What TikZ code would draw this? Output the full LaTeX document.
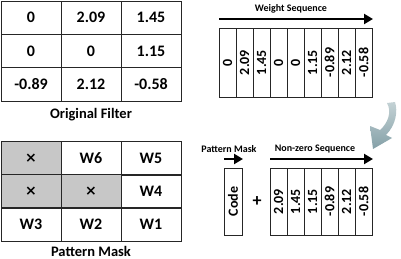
\documentclass[tikz,border=0pt]{standalone}
\usepackage{fontspec}
\setmainfont{Carlito}
\newfontfamily\symfont{DejaVu Sans}
\usetikzlibrary{arrows.meta}

\begin{document}
\begin{tikzpicture}[
  x=1pt,y=-1pt,
  cell/.style={draw=black!85,line width=.8pt,minimum width=60pt,minimum height=33.3pt,
    inner sep=0pt,font=\fontsize{16}{18}\selectfont\bfseries},
  masked/.style={cell,fill=black!22,font=\fontsize{14}{16}\symfont\bfseries},
  seqcell/.style={draw=black!85,line width=.8pt,minimum width=17pt,minimum height=69pt,
    inner sep=0pt,font=\fontsize{14}{16}\selectfont\bfseries},
  nzcell/.style={seqcell,minimum height=67pt},
  caption/.style={anchor=base,font=\fontsize{14.5}{16}\selectfont\bfseries},
  tag/.style={font=\fontsize{10}{12}\selectfont\bfseries},
  flow/.style={-{Triangle[length=9pt,width=10pt]},line width=2.2pt}
]
  \useasboundingbox (0,0) rectangle (401,259);

  % original filter
  \node[cell] (f11) at (31,17.7) {0};
  \node[cell] (f12) at (91,17.7) {2.09};
  \node[cell] (f13) at (151,17.7) {1.45};
  \node[cell] (f21) at (31,51) {0};
  \node[cell] (f22) at (91,51) {0};
  \node[cell] (f23) at (151,51) {1.15};
  \node[cell] (f31) at (31,84.3) {-0.89};
  \node[cell] (f32) at (91,84.3) {2.12};
  \node[cell] (f33) at (151,84.3) {-0.58};
  \node[caption] (filtercap) at (91,118) {Original Filter};

  % pattern mask
  \node[masked] (m11) at (31,158.5) {×};
  \node[cell] (m12) at (91,158.5) {W6};
  \node[cell] (m13) at (151,158.5) {W5};
  \node[masked] (m21) at (31,191.5) {×};
  \node[masked] (m22) at (91,191.5) {×};
  \node[cell] (m23) at (151,191.5) {W4};
  \node[cell] (m31) at (31,224.5) {W3};
  \node[cell] (m32) at (91,224.5) {W2};
  \node[cell] (m33) at (151,224.5) {W1};
  \node[caption] (maskcap) at (91,256) {Pattern Mask};

  % weight sequence
  \node[seqcell] (w1) at (227.5,62.5) {\rotatebox{90}{0}};
  \node[seqcell] (w2) at (244.5,62.5) {\rotatebox{90}{2.09}};
  \node[seqcell] (w3) at (261.5,62.5) {\rotatebox{90}{1.45}};
  \node[seqcell] (w4) at (278.5,62.5) {\rotatebox{90}{0}};
  \node[seqcell] (w5) at (295.5,62.5) {\rotatebox{90}{0}};
  \node[seqcell] (w6) at (312.5,62.5) {\rotatebox{90}{1.15}};
  \node[seqcell] (w7) at (329.5,62.5) {\rotatebox{90}{-0.89}};
  \node[seqcell] (w8) at (346.5,62.5) {\rotatebox{90}{2.12}};
  \node[seqcell] (w9) at (363.5,62.5) {\rotatebox{90}{-0.58}};
  \coordinate (wstart) at (219,19);
  \coordinate (wend) at (373,19);
  \draw[flow] (wstart) -- (wend);
  \node[tag] (wtag) at (291,9) {Weight Sequence};

  % curved arrow
  \path[top color={rgb,255:red,196;green,210;blue,213},bottom color={rgb,255:red,132;green,160;blue,167}]
    (387,103) .. controls (392,112) and (388,123) .. (380,130) -- (370,126) -- (373,149)
    -- (392,138) -- (386,135) .. controls (396,125) and (398,111) .. (395,102) -- cycle;

  % code + non-zero sequence
  \node[nzcell,minimum width=18pt] (code) at (233,201.5) {\rotatebox{90}{Code}};
  \node[font=\fontsize{18}{20}\selectfont\bfseries] (plus) at (257,201.5) {+};
  \node[nzcell] (n1) at (278.5,201.5) {\rotatebox{90}{2.09}};
  \node[nzcell] (n2) at (295.5,201.5) {\rotatebox{90}{1.45}};
  \node[nzcell] (n3) at (312.5,201.5) {\rotatebox{90}{1.15}};
  \node[nzcell] (n4) at (329.5,201.5) {\rotatebox{90}{-0.89}};
  \node[nzcell] (n5) at (346.5,201.5) {\rotatebox{90}{2.12}};
  \node[nzcell] (n6) at (363.5,201.5) {\rotatebox{90}{-0.58}};
  \coordinate (cstart) at (224,159);
  \coordinate (cend) at (243,159);
  \draw[flow] (cstart) -- (cend);
  \node[tag] (ctag) at (229,149) {Pattern Mask};
  \coordinate (nstart) at (270,159);
  \coordinate (nend) at (373,159);
  \draw[flow] (nstart) -- (nend);
  \node[tag] (ntag) at (315,149) {Non-zero Sequence};
\end{tikzpicture}
\end{document}
